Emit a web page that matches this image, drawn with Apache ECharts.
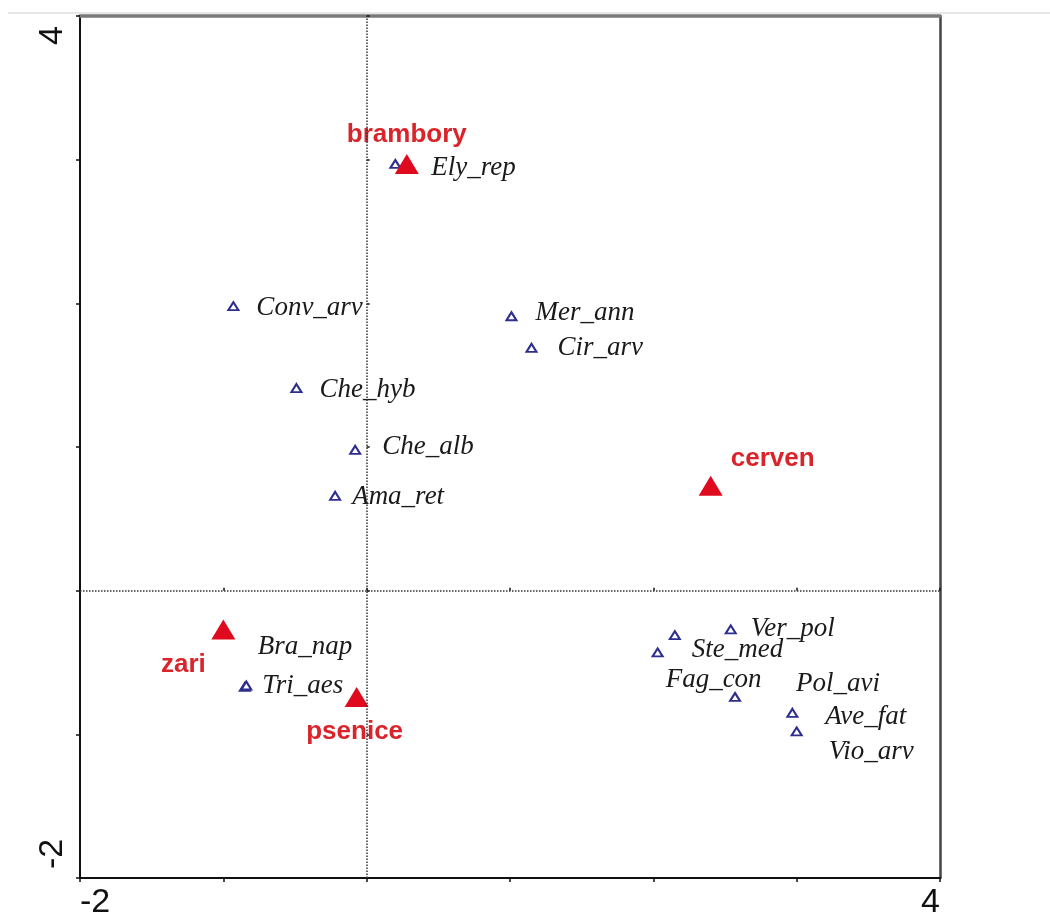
<!DOCTYPE html>
<html><head><meta charset="utf-8">
<script src="https://cdn.jsdelivr.net/npm/echarts@6/dist/echarts.min.js"></script>
<style>html,body{margin:0;padding:0;background:#fff}#c{width:1050px;height:924px}</style>
</head><body><div id="c"></div>
<script>
// ---- data ----
const speciesNames = ['Ely_rep','Conv_arv','Mer_ann','Cir_arv','Che_hyb','Che_alb','Ama_ret','Bra_nap','Tri_aes','Ver_pol','Ste_med','Fag_con','Pol_avi','Ave_fat','Vio_arv'];
const speciesX = [0.20, -0.93, 1.01, 1.15, -0.49, -0.08, -0.22, -0.85, -0.84, 2.54, 2.15, 2.03, 2.57, 2.97, 3.00];
const speciesY = [2.97, 1.98, 1.91, 1.69, 1.41, 0.98, 0.66, -0.67, -0.66, -0.27, -0.31, -0.43, -0.74, -0.85, -0.98];

const cropNames = ['brambory','cerven','zari','psenice'];
const cropX = [0.28, 2.40, -1.00, -0.07];
const cropY = [2.97, 0.73, -0.27, -0.74];

const xTickLabels = ['-2','4'];
const yTickLabels = ['-2','4'];

// ---- layout (label placement, px) ----
const speciesLabelOffset = {
  Ely_rep:[36,4], Conv_arv:[23,2], Mer_ann:[24,-3], Cir_arv:[26,0], Che_hyb:[23,2],
  Che_alb:[27,-3], Ama_ret:[17,1], Bra_nap:[13,-40], Tri_aes:[16,0], Ver_pol:[20,-1],
  Ste_med:[17,15], Fag_con:[8,27], Pol_avi:[61,-13], Ave_fat:[33,4], Vio_arv:[32,20]
};
const cropLabelOffset = { brambory:[0,-29], cerven:[62,-27], zari:[-40,35], psenice:[-2,35] };

const chart = echarts.init(document.getElementById('c'), null, {renderer:'canvas'});

const baseX = {type:'value', min:-2, max:4, interval:1, splitLine:{show:false}};
const baseY = {type:'value', min:-2, max:4, interval:1, splitLine:{show:false}};

const option = {
  backgroundColor:'#ffffff',
  animation:false,
  grid:{left:80, right:110, top:16, bottom:46, containLabel:false},
  graphic:[{type:'line', shape:{x1:8,y1:13,x2:1050,y2:13}, style:{stroke:'#d0d0d0', lineWidth:1}, silent:true}],
  xAxis:[
    Object.assign({}, baseX, {position:'bottom',
      axisLine:{show:true, onZero:false, lineStyle:{color:'#111', width:2}},
      axisTick:{show:true, inside:false, length:4, lineStyle:{color:'#111', width:1.5}},
      axisLabel:{show:true, fontFamily:'Liberation Sans, Arial, sans-serif', fontSize:34, color:'#111', margin:8,
        alignMinLabel:'left', alignMaxLabel:'right', showMinLabel:true, showMaxLabel:true,
        formatter:v => xTickLabels.includes(String(v)) ? String(v) : ''}}),
    Object.assign({}, baseX, {position:'top',
      axisLine:{show:true, onZero:false, lineStyle:{color:'#7a7a7a', width:3.5}},
      axisTick:{show:false}, axisLabel:{show:false}}),
    Object.assign({}, baseX, {position:'bottom',
      axisLine:{show:false}, axisTick:{show:true, inside:true, length:3, lineStyle:{color:'#111', width:1.5}},
      axisLabel:{show:false}})
  ],
  yAxis:[
    Object.assign({}, baseY, {position:'left',
      axisLine:{show:true, onZero:false, lineStyle:{color:'#111', width:2}},
      axisTick:{show:true, inside:false, length:4, lineStyle:{color:'#111', width:1.5}},
      axisLabel:{show:true, rotate:90, fontFamily:'Liberation Sans, Arial, sans-serif', fontSize:34, color:'#111', margin:10,
        alignMinLabel:'left', alignMaxLabel:'right', padding:[0,10,0,9], showMinLabel:true, showMaxLabel:true,
        formatter:v => yTickLabels.includes(String(v)) ? String(v) : ''}}),
    Object.assign({}, baseY, {position:'right',
      axisLine:{show:true, onZero:false, lineStyle:{color:'#444', width:2.5}},
      axisTick:{show:false}, axisLabel:{show:false}}),
    Object.assign({}, baseY, {position:'left',
      axisLine:{show:false}, axisTick:{show:true, inside:true, length:3, lineStyle:{color:'#111', width:1.5}},
      axisLabel:{show:false}})
  ],
  series:[
    {
      type:'scatter', xAxisIndex:0, yAxisIndex:0, clip:false,
      symbol:'triangle', symbolSize:[10,8],
      itemStyle:{color:'#ffffff', borderColor:'#2e2e8f', borderWidth:2, opacity:1},
      label:{show:true, position:'inside', align:'left', verticalAlign:'middle', formatter:'{b}',
        fontFamily:'Liberation Serif, Times New Roman, serif', fontStyle:'italic', fontSize:27, color:'#1a1a1a'},
      emphasis:{disabled:true},
      markLine:{silent:true, symbol:['none','none'], label:{show:false},
        lineStyle:{color:'#333', type:'dotted', width:1.5, opacity:1},
        data:[{xAxis:0},{yAxis:0}]},
      data: speciesNames.map((n,i)=>({name:n, value:[speciesX[i], speciesY[i]], label:{offset:speciesLabelOffset[n]}})),
      z:3
    },
    {
      type:'scatter', xAxisIndex:0, yAxisIndex:0, clip:false,
      symbol:'triangle', symbolSize:[24,20],
      itemStyle:{color:'#e00a1e', opacity:1},
      label:{show:true, position:'inside', align:'center', verticalAlign:'middle', formatter:'{b}',
        fontFamily:'Liberation Sans, Arial, sans-serif', fontWeight:'bold', fontSize:26, color:'#d8242a'},
      emphasis:{disabled:true},
      data: cropNames.map((n,i)=>({name:n, value:[cropX[i], cropY[i]], label:{offset:cropLabelOffset[n]}})),
      z:4
    }
  ]
};
chart.setOption(option);
</script>
</body></html>
